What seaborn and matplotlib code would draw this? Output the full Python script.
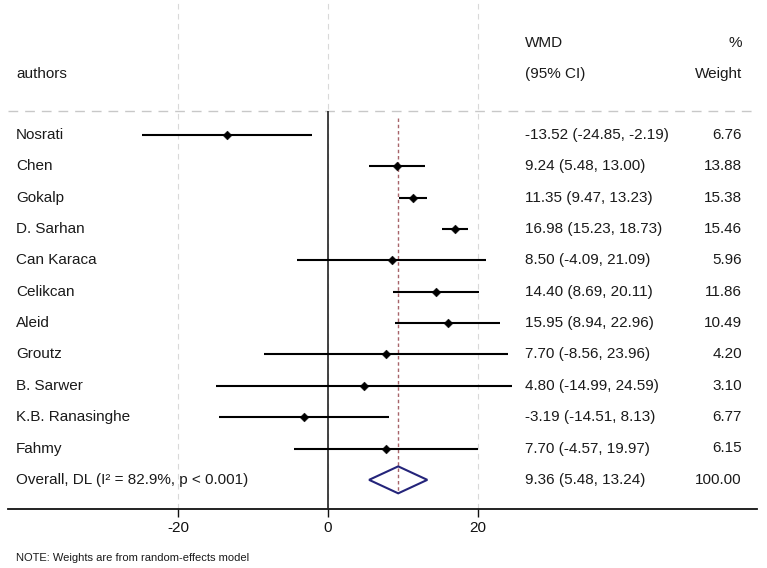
import matplotlib
matplotlib.use('Agg')
import matplotlib.pyplot as plt
import matplotlib.transforms as mtransforms
from matplotlib.patches import Polygon
import pandas as pd
import seaborn as sns

sns.set_style('white')
plt.rcParams['font.family'] = ['Liberation Sans', 'DejaVu Sans']
plt.rcParams['axes.unicode_minus'] = False

authors = ['Nosrati', 'Chen', 'Gokalp', 'D. Sarhan', 'Can Karaca', 'Celikcan',
           'Aleid', 'Groutz', 'B. Sarwer', 'K.B. Ranasinghe', 'Fahmy']
wmd = [-13.52, 9.24, 11.35, 16.98, 8.50, 14.40, 15.95, 7.70, 4.80, -3.19, 7.70]
lower = [-24.85, 5.48, 9.47, 15.23, -4.09, 8.69, 8.94, -8.56, -14.99, -14.51, -4.57]
upper = [-2.19, 13.00, 13.23, 18.73, 21.09, 20.11, 22.96, 23.96, 24.59, 8.13, 19.97]
weights = [6.76, 13.88, 15.38, 15.46, 5.96, 11.86, 10.49, 4.20, 3.10, 6.77, 6.15]

overall_label = 'Overall, DL (I\u00b2 = 82.9%, p < 0.001)'
overall_est, overall_lo, overall_hi, overall_w = 9.36, 5.48, 13.24, 100.00
xticks = [-20, 0, 20]

df = pd.DataFrame({'authors': authors, 'wmd': wmd, 'lower': lower,
                   'upper': upper, 'weight': weights})
df['row'] = range(len(df))
n = len(df)

# layout in pixels of the 767x568 canvas
W, H = 767, 568
x0_px, px_per_unit = 328, 7.5
row0_px, row_px = 135, 31.35
axis_px = 509

fig = plt.figure(figsize=(W / 100, H / 100), dpi=100)
ax = fig.add_axes([8 / W, (H - axis_px) / H, (757 - 8) / W, axis_px / H])
ax.set_xlim((8 - x0_px) / px_per_unit, (757 - x0_px) / px_per_unit)
ymax = (axis_px - row0_px) / row_px
ax.set_ylim(ymax, -row0_px / row_px)

sep_y = (111 - row0_px) / row_px
head1 = (43 - row0_px) / row_px
head2 = (74 - row0_px) / row_px

ax.set_xticks(xticks)
ax.set_yticks([])
ax.grid(axis='x', color='#d9d9d9', lw=0.8, linestyle=(0, (5, 4)))
ax.grid(axis='y', visible=False)
for s in ['left', 'top', 'right']:
    ax.spines[s].set_visible(False)
ax.spines['bottom'].set_color('#111111')
ax.spines['bottom'].set_linewidth(1.3)
ax.tick_params(axis='x', length=6, width=1, labelsize=11, pad=3,
               colors='#111111', bottom=True)

ax.axhline(sep_y, color='#c8c8c8', lw=1, linestyle=(0, (7, 5)))
ax.vlines(0, sep_y, ymax, color='#222222', lw=1.2, zorder=3)
ax.vlines(overall_est, (118 - row0_px) / row_px, n + 0.43,
          color='#a8646a', lw=1, linestyles=(0, (2.5, 2)), zorder=2)

ax.hlines(df['row'], df['lower'], df['upper'], color='black', lw=1.5, zorder=3)
sns.scatterplot(data=df, x='wmd', y='row', marker='D', s=20, color='black',
                edgecolor='black', ax=ax, zorder=4, legend=False)
ax.set_xlabel('')
ax.set_ylabel('')

ax.add_patch(Polygon([[overall_lo, n], [overall_est, n - 0.43],
                      [overall_hi, n], [overall_est, n + 0.43]],
                     closed=True, fill=False, edgecolor='#24247a', lw=1.5, zorder=4))

trans = mtransforms.blended_transform_factory(fig.transFigure, ax.transData)
tc = '#1a1a1a'
fs = 11
kw = dict(transform=trans, va='center', fontsize=fs, color=tc, clip_on=False)

ax.text(16 / W, head2, 'authors', ha='left', **kw)
ax.text(525 / W, head1, 'WMD', ha='left', **kw)
ax.text(525 / W, head2, '(95% CI)', ha='left', **kw)
ax.text(742 / W, head1, '%', ha='right', **kw)
ax.text(742 / W, head2, 'Weight', ha='right', **kw)

for _, r in df.iterrows():
    ax.text(16 / W, r['row'], r['authors'], ha='left', **kw)
    ax.text(525 / W, r['row'], f"{r['wmd']:.2f} ({r['lower']:.2f}, {r['upper']:.2f})",
            ha='left', **kw)
    ax.text(742 / W, r['row'], f"{r['weight']:.2f}", ha='right', **kw)

ax.text(16 / W, n, overall_label, ha='left', **kw)
ax.text(525 / W, n, f'{overall_est:.2f} ({overall_lo:.2f}, {overall_hi:.2f})', ha='left', **kw)
ax.text(742 / W, n, f'{overall_w:.2f}', ha='right', **kw)

fig.text(16 / W, 1 - 558 / H, 'NOTE: Weights are from random-effects model',
         ha='left', va='center', fontsize=8, color=tc)

fig.savefig('out.png', dpi=100)
